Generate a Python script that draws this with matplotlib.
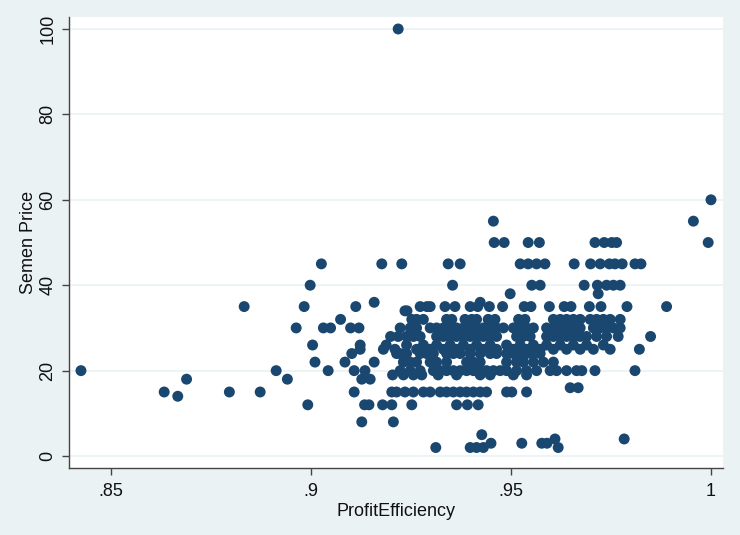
import matplotlib.pyplot as plt
import numpy as np

plt.rcParams['font.family'] = ['Liberation Sans', 'DejaVu Sans']

BG = '#eaf2f3'
MARKER = '#1a476f'

# ProfitEfficiency values, grouped by Semen Price level
eff_p100 = [0.9218]
eff_p60 = [1.0]
eff_p55 = [0.9456, 0.9956]
eff_p50 = [0.9458, 0.9483, 0.9543, 0.9571, 0.971, 0.9733, 0.9752, 0.9764, 0.9993]
eff_p45 = [0.9026, 0.9177, 0.9227, 0.9343, 0.9373, 0.9523, 0.9543, 0.9564,
           0.9585, 0.9658, 0.9699, 0.9723, 0.9746, 0.976, 0.9778, 0.981, 0.9825]
eff_p40 = [0.8998, 0.9354, 0.9552, 0.9573, 0.9683, 0.9716, 0.9739, 0.9756, 0.9773]
eff_p38 = [0.9498, 0.9718]
eff_p36 = [0.9158, 0.9423]
eff_p35 = [0.8833, 0.8983, 0.9112, 0.9273, 0.929, 0.9298, 0.9335, 0.936, 0.9398,
           0.9417, 0.9446, 0.9479, 0.9533, 0.955, 0.9596, 0.9633, 0.965, 0.9696,
           0.9725, 0.979, 0.9889]
eff_p34 = [0.9235, 0.924]
eff_p32 = [0.9074, 0.9252, 0.9264, 0.9281, 0.9339, 0.9352, 0.9385, 0.9402, 0.9414,
           0.9443, 0.946, 0.9519, 0.9535, 0.9606, 0.9623, 0.9639, 0.9656, 0.9673,
           0.9698, 0.9714, 0.9731, 0.9748, 0.9773]
eff_p30 = [0.8963, 0.9031, 0.9049, 0.9099, 0.912, 0.9223, 0.9248, 0.9264, 0.9298,
           0.9314, 0.9331, 0.9348, 0.9364, 0.9381, 0.9398, 0.9414, 0.9431, 0.9448,
           0.9464, 0.9481, 0.9506, 0.9523, 0.9539, 0.9556, 0.9589, 0.9606, 0.9623,
           0.9639, 0.9656, 0.9673, 0.9706, 0.9723, 0.9739, 0.9756, 0.9773]
eff_p28 = [0.9199, 0.9218, 0.9239, 0.9256, 0.9273, 0.9314, 0.9331, 0.9348, 0.9364,
           0.9381, 0.9398, 0.9414, 0.9431, 0.9448, 0.9464, 0.9514, 0.9531, 0.9548,
           0.9589, 0.9606, 0.9623, 0.9639, 0.9656, 0.9673, 0.9689, 0.9714, 0.9739,
           0.9768, 0.9849]
eff_p26 = [0.9004, 0.9123, 0.9188, 0.9239, 0.9281, 0.9314, 0.9348, 0.9381, 0.9414,
           0.9448, 0.9489, 0.9523, 0.9556, 0.9589, 0.9623, 0.9656, 0.9689, 0.9731]
eff_p25 = [0.9123, 0.9181, 0.921, 0.9264, 0.9298, 0.9331, 0.9364, 0.9398, 0.9431,
           0.9464, 0.9506, 0.9539, 0.9573, 0.9606, 0.9639, 0.9673, 0.9706, 0.9748,
           0.9821]
eff_p24 = [0.9102, 0.9214, 0.9223, 0.9239, 0.9273, 0.9289, 0.9306, 0.9339, 0.9356,
           0.9373, 0.9398, 0.9423, 0.9448, 0.9464, 0.9489, 0.9506, 0.9523, 0.9539,
           0.9556, 0.9573]
eff_p22 = [0.901, 0.9085, 0.9158, 0.9231, 0.9248, 0.9264, 0.9298, 0.9314, 0.9339,
           0.9389, 0.9406, 0.9423, 0.9489, 0.9514, 0.9531, 0.9556, 0.9581, 0.9606]
eff_p20 = [0.8425, 0.8913, 0.9043, 0.9108, 0.9135, 0.9223, 0.9248, 0.9273, 0.9306,
           0.9323, 0.9339, 0.9356, 0.9373, 0.9389, 0.9406, 0.9423, 0.9439, 0.9456,
           0.9473, 0.9489, 0.9514, 0.9539, 0.9564, 0.9598, 0.9614, 0.9639, 0.9664,
           0.9677, 0.971, 0.981]
eff_p19 = [0.9204, 0.9231, 0.9256, 0.9277, 0.9318, 0.9364, 0.9423, 0.9448, 0.9506,
           0.9539]
eff_p18 = [0.8689, 0.8941, 0.9127, 0.9148]
eff_p16 = [0.9648, 0.9668]
eff_p15 = [0.8633, 0.8796, 0.8873, 0.9108, 0.9202, 0.9214, 0.9235, 0.9256, 0.9281,
           0.9298, 0.9323, 0.9339, 0.9356, 0.9373, 0.9389, 0.9406, 0.9423, 0.9439,
           0.9489, 0.9502, 0.9539]
eff_p14 = [0.8667]
eff_p12 = [0.8992, 0.9134, 0.9145, 0.9179, 0.9202, 0.9252, 0.9364, 0.9391, 0.9418]
eff_p8 = [0.9127, 0.9206]
eff_p5 = [0.9427]
eff_p4 = [0.961, 0.9783]
eff_p3 = [0.945, 0.9527, 0.9577, 0.959]
eff_p2 = [0.9312, 0.9398, 0.9414, 0.9431, 0.9618]

price_levels = [100, 60, 55, 50, 45, 40, 38, 36, 35, 34, 32, 30, 28, 26, 25, 24,
                22, 20, 19, 18, 16, 15, 14, 12, 8, 5, 4, 3, 2]
eff_rows = [eff_p100, eff_p60, eff_p55, eff_p50, eff_p45, eff_p40, eff_p38,
            eff_p36, eff_p35, eff_p34, eff_p32, eff_p30, eff_p28, eff_p26,
            eff_p25, eff_p24, eff_p22, eff_p20, eff_p19, eff_p18, eff_p16,
            eff_p15, eff_p14, eff_p12, eff_p8, eff_p5, eff_p4, eff_p3, eff_p2]

efficiency = np.concatenate([np.array(row) for row in eff_rows])
price = np.concatenate([np.full(len(row), p) for p, row in zip(price_levels, eff_rows)])

x_ticks = [0.85, 0.9, 0.95, 1.0]
x_tick_labels = ['.85', '.9', '.95', '1']
y_ticks = [0, 20, 40, 60, 80, 100]

fig = plt.figure(figsize=(7.4, 5.35), dpi=100, facecolor=BG)
ax = fig.add_axes([0.0932, 0.1252, 0.8838, 0.843])
ax.set_facecolor('white')

ax.scatter(efficiency, price, s=62, color=MARKER, edgecolors='none', zorder=3)

ax.set_xlim(0.8395, 1.003)
ax.set_ylim(-2.8, 102.8)
ax.set_xticks(x_ticks)
ax.set_xticklabels(x_tick_labels)
ax.set_yticks(y_ticks)
ax.set_yticklabels([str(v) for v in y_ticks], rotation=90, va='center')

ax.grid(axis='y', color=BG, linewidth=1.2, zorder=0)
ax.set_axisbelow(True)
for side in ['top', 'right']:
    ax.spines[side].set_visible(False)
for side in ['left', 'bottom']:
    ax.spines[side].set_color('#444444')
    ax.spines[side].set_linewidth(1.0)

ax.tick_params(axis='both', direction='out', length=5, width=1, color='#444444',
               labelsize=13, labelcolor='#111111')
ax.tick_params(axis='x', pad=6)
ax.tick_params(axis='y', pad=4)

ax.set_xlabel('ProfitEfficiency', fontsize=13, color='#111111', labelpad=2)
ax.set_ylabel('Semen Price', fontsize=13, color='#111111', labelpad=2)

fig.savefig('out.png', dpi=100, facecolor=BG)
